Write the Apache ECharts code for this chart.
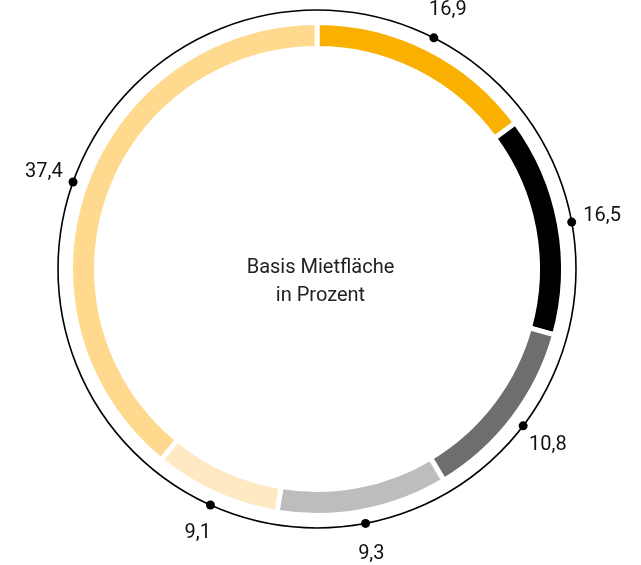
<!DOCTYPE html>
<html>
<head>
<meta charset="utf-8">
<script src="https://cdn.jsdelivr.net/npm/echarts@6/dist/echarts.min.js"></script>
<style>
html,body{margin:0;padding:0;background:#fff;}
#chart{width:641px;height:565px;}
</style>
</head>
<body>
<div id="chart"></div>
<script>
// Segment categories (clockwise from top)
const categories = ['Segment A', 'Segment B', 'Segment C', 'Segment D', 'Segment E', 'Segment F'];
// Arc shares as drawn in the picture (percent of the ring)
const shareValues = [14.9, 14.4, 12.1, 11.2, 8.3, 39.1];
// Values printed at the dots
const labelValues = [16.9, 16.5, 10.8, 9.3, 9.1, 37.4];
const colors = ['#F9B000', '#000000', '#6E6E6E', '#BDBDBD', '#FEE9C2', '#FED98E'];
const centerTitle = ['Basis Mietfläche', 'in Prozent'];

const CX = 317, CY = 269;

// midpoint of each arc, in percent along the ring
const mids = [];
let acc = 0;
shareValues.forEach(v => { mids.push(acc + v / 2); acc += v; });

const fmt = v => v.toFixed(1).replace('.', ',');

const chart = echarts.init(document.getElementById('chart'), null, {renderer: 'canvas'});
chart.setOption({
  animation: false,
  backgroundColor: '#ffffff',
  polar: [
    {center: [CX, CY], radius: 259},
    {center: [CX, CY], radius: 290}
  ],
  angleAxis: [
    {polarIndex: 0, type: 'value', min: 0, max: 100, startAngle: 90, clockwise: true,
     axisLine: {show: true, lineStyle: {color: '#000', width: 1.6}},
     axisTick: {show: false}, axisLabel: {show: false}, splitLine: {show: false}},
    {polarIndex: 1, type: 'value', min: 0, max: 100, startAngle: 90, clockwise: true,
     axisLine: {show: false}, axisTick: {show: false}, axisLabel: {show: false}, splitLine: {show: false}}
  ],
  radiusAxis: [
    {polarIndex: 0, type: 'value', min: 0, max: 1, axisLine: {show: false}, axisTick: {show: false},
     axisLabel: {show: false}, splitLine: {show: false}},
    {polarIndex: 1, type: 'value', min: 0, max: 1, axisLine: {show: false}, axisTick: {show: false},
     axisLabel: {show: false}, splitLine: {show: false}}
  ],
  series: [
    {
      type: 'pie',
      center: [CX, CY],
      radius: [220.5, 246.5],
      startAngle: 90,
      clockwise: true,
      silent: true,
      label: {show: false},
      labelLine: {show: false},
      itemStyle: {borderColor: '#ffffff', borderWidth: 5},
      data: categories.map((c, i) => ({name: c, value: shareValues[i], itemStyle: {color: colors[i]}}))
    },
    {
      type: 'scatter',
      coordinateSystem: 'polar',
      polarIndex: 0,
      symbol: 'circle',
      symbolSize: 9,
      silent: true,
      itemStyle: {color: '#000', opacity: 1},
      data: mids.map(m => [1, m])
    },
    {
      type: 'scatter',
      coordinateSystem: 'polar',
      polarIndex: 1,
      symbolSize: 2,
      silent: true,
      itemStyle: {color: 'rgba(255,255,255,0)', opacity: 1},
      label: {
        show: true, position: 'inside', align: 'center', verticalAlign: 'middle',
        fontFamily: 'Roboto', fontSize: 20, color: '#111',
        formatter: p => fmt(labelValues[p.dataIndex])
      },
      data: mids.map(m => [1, m])
    }
  ],
  graphic: [{
    type: 'text',
    left: 'center',
    top: 254,
    style: {
      text: centerTitle.join('\n'),
      textAlign: 'center',
      fontFamily: 'Roboto',
      fontSize: 20,
      lineHeight: 28,
      fill: '#222'
    }
  }]
});
</script>
</body>
</html>
